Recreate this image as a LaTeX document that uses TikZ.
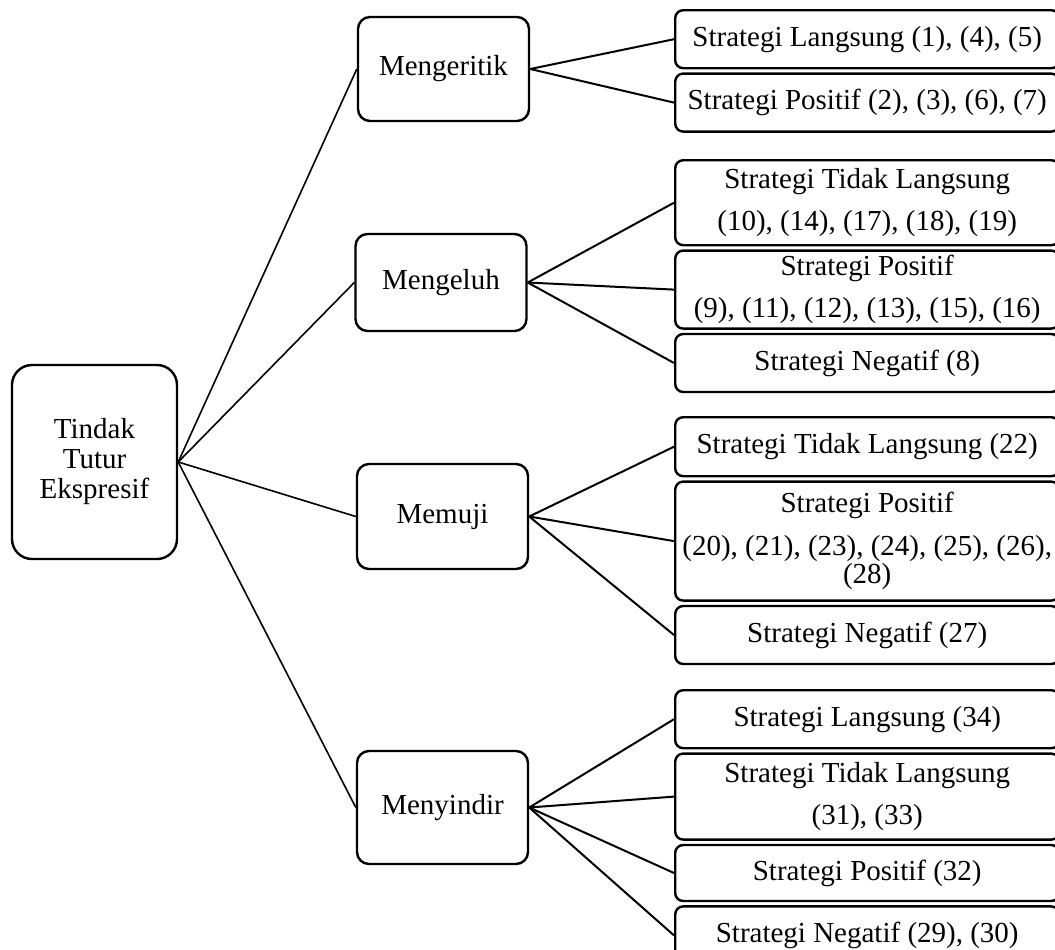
\documentclass[tikz,border=0pt]{standalone}
\usepackage{fontspec}
\setmainfont{Liberation Serif}
\usetikzlibrary{positioning}
\tikzset{every node/.style={font=\fontsize{14.5pt}{14pt}\selectfont}}
\tikzset{
        box/.style={draw,line width=1.2pt,align=center,inner sep=0pt},
        rootbox/.style={box,rounded corners=10pt,minimum width=82.5pt,minimum height=97pt},
        actbox/.style={box,rounded corners=6pt,minimum width=85.5pt},
        leafbox/.style={box,rounded corners=4pt,minimum width=192pt}
    }

\begin{document}
\begin{tikzpicture}[x=0.5pt,y=-0.5pt,node distance=1.5pt]
                \useasboundingbox (0,0) rectangle (1055,949);
                \node[rootbox] (tt) at (94.5,462) {Tindak\\[1pt]Tutur\\[1pt]Ekspresif};
                \node[actbox,minimum height=52pt] (mk) at (443.5,69) {Mengeritik};
                \node[actbox,minimum height=48.5pt] (ml) at (441,282.5) {Mengeluh};
                \node[actbox,minimum height=52.5pt] (mm) at (442.5,516.5) {Memuji};
                \node[actbox,minimum height=56.5pt] (ms) at (442.5,807.5) {Menyindir};
                % Mengeritik
                \node[leafbox,minimum height=29pt,anchor=north west] (mk1) at (674,9) {Strategi Langsung (1), (4), (5)};
                \node[leafbox,minimum height=29pt] (mk2) [below=of mk1] {Strategi Positif (2), (3), (6), (7)};
                % Mengeluh
                \node[leafbox,minimum height=42.5pt,anchor=north west] (ml1) at (674,159) {Strategi Tidak Langsung\\[7pt](10), (14), (17), (18), (19)};
                \node[leafbox,minimum height=39pt] (ml2) [below=of ml1] {Strategi Positif\\[7pt](9), (11), (12), (13), (15), (16)};
                \node[leafbox,minimum height=29pt] (ml3) [below=of ml2] {Strategi Negatif (8)};
                % Memuji
                \node[leafbox,minimum height=29.5pt,anchor=north west] (mm1) at (674,416) {Strategi Tidak Langsung (22)};
                \node[leafbox,minimum height=59.5pt] (mm2) [below=of mm1] {Strategi Positif\\[7.5pt](20), (21), (23), (24), (25), (26),\\(28)};
                \node[leafbox,minimum height=29pt] (mm3) [below=of mm2] {Strategi Negatif (27)};
                % Menyindir
                \node[leafbox,minimum height=29pt,anchor=north west] (ms1) at (674,689) {Strategi Langsung (34)};
                \node[leafbox,minimum height=43pt] (ms2) [below=of ms1] {Strategi Tidak Langsung\\[7pt](31), (33)};
                \node[leafbox,minimum height=28pt] (ms3) [below=of ms2] {Strategi Positif (32)};
                \node[leafbox,minimum height=29pt] (ms4) [below=of ms3] {Strategi Negatif (29), (30)};
                \path[line width=0.8pt]
                        (tt.east) edge (mk.west)
                        (tt.east) edge (ml.west)
                        (tt.east) edge (mm.west)
                        (tt.east) edge (ms.west)
                ;
                \path[line width=1pt]
                        (mk.east) edge (mk1.west)
                        (mk.east) edge (mk2.west)
                        (ml.east) edge (ml1.west)
                        (ml.east) edge (ml2.west)
                        (ml.east) edge (ml3.west)
                        (mm.east) edge (mm1.west)
                        (mm.east) edge (mm2.west)
                        (mm.east) edge (mm3.west)
                        (ms.east) edge (ms1.west)
                        (ms.east) edge (ms2.west)
                        (ms.east) edge (ms3.west)
                        (ms.east) edge (ms4.west)
                ;
            \end{tikzpicture}
\end{document}
